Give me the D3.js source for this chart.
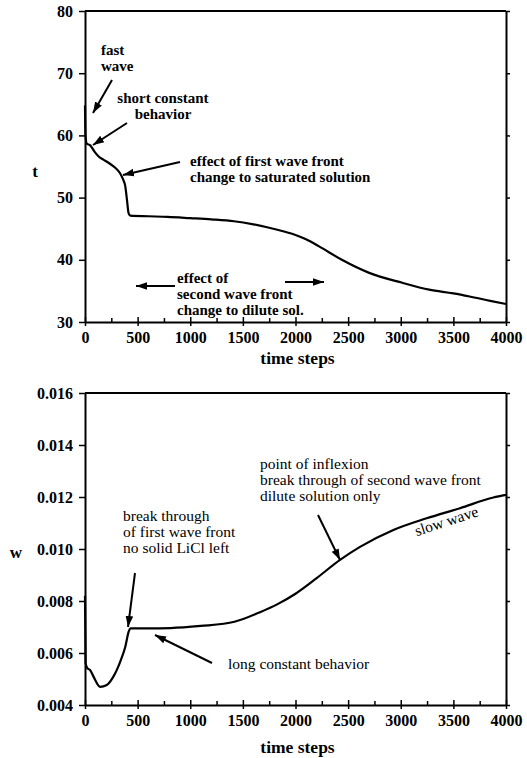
<!DOCTYPE html>
<html>
<head>
<meta charset="utf-8">
<script src="https://cdn.jsdelivr.net/npm/d3@7"></script>
<style>
  body { margin: 0; background: #fff; }
  svg { display: block; }
  text { font-family: "Liberation Serif", "Times New Roman", serif; fill: #000; }
  .tick text { font-weight: bold; font-size: 16px; }
  .ann-b { font-weight: bold; font-size: 15px; }
  .ann { font-size: 15.5px; }
</style>
</head>
<body>
<div id="chart"></div>
<script>
// top panel: t vs time steps
const tSteps = [0, 5, 16, 50, 90, 130, 175, 240, 287, 330, 360, 383, 399, 414, 431, 600, 785, 1000, 1200, 1416, 1600, 1740, 1900, 2000, 2100, 2220, 2440, 2700, 3015, 3270, 3500, 3655, 3850, 4000];
const tValues = [64.8, 60.0, 58.7, 58.4, 57.4, 56.6, 56.1, 55.4, 54.8, 54.0, 53.0, 51.8, 49.6, 47.5, 47.1, 47.0, 46.9, 46.7, 46.5, 46.2, 45.7, 45.2, 44.5, 44.0, 43.3, 42.2, 40.0, 37.9, 36.3, 35.2, 34.6, 34.1, 33.4, 32.9];

// bottom panel: w vs time steps
const wSteps = [0, 6, 25, 48, 80, 144, 207, 271, 335, 383, 415, 431, 600, 813, 1100, 1420, 1663, 1830, 2000, 2201, 2423, 2613, 2930, 3246, 3563, 3880, 4000];
const wValues = [0.0082, 0.0056, 0.0054, 0.00535, 0.0051, 0.0047, 0.00477, 0.0051, 0.00567, 0.00624, 0.00682, 0.00695, 0.00695, 0.00696, 0.00704, 0.0072, 0.00757, 0.00788, 0.00828, 0.00888, 0.00958, 0.01008, 0.01073, 0.01118, 0.01157, 0.01198, 0.01208];

const xMajor = [0, 500, 1000, 1500, 2000, 2500, 3000, 3500, 4000];
const xMinor = [250, 750, 1250, 1750, 2250, 2750, 3250, 3750];
const tTicks = [30, 40, 50, 60, 70, 80];
const wTicks = [0.004, 0.006, 0.008, 0.010, 0.012, 0.014, 0.016];

const W = 527, H = 758;
const svg = d3.select("#chart").append("svg").attr("width", W).attr("height", H);

svg.append("defs").append("marker")
  .attr("id", "head")
  .attr("viewBox", "0 0 10 10")
  .attr("refX", 10).attr("refY", 5)
  .attr("markerWidth", 11).attr("markerHeight", 11)
  .attr("markerUnits", "userSpaceOnUse")
  .attr("orient", "auto")
  .append("path").attr("d", "M0,1.5 L10,5 L0,8.5 Z").attr("fill", "#000");

const x = d3.scaleLinear().domain([0, 4000]).range([85, 506]);

function panel(y, ticks, fmt, steps, values, yName, yNamePos, titleY) {
  const g = svg.append("g");
  const [y0, y1] = y.range();

  // frame top
  g.append("line").attr("x1", x.range()[0]).attr("x2", x.range()[1])
    .attr("y1", y1).attr("y2", y1).attr("stroke", "#000").attr("stroke-width", 2);

  const left = g.append("g").attr("transform", `translate(${x.range()[0]},0)`)
    .call(d3.axisLeft(y).tickValues(ticks).tickFormat(fmt).tickSize(6).tickPadding(6).tickSizeOuter(0));
  const right = g.append("g").attr("transform", `translate(${x.range()[1]},0)`)
    .call(d3.axisRight(y).tickValues(ticks).tickFormat("").tickSize(4).tickSizeOuter(0));
  const bottom = g.append("g").attr("transform", `translate(0,${y0})`)
    .call(d3.axisBottom(x).tickValues(xMajor).tickFormat(d3.format("d")).tickSize(4).tickPadding(6).tickSizeOuter(0));
  bottom.selectAll(".tick line").attr("y1", -5);
  const minor = g.append("g").attr("transform", `translate(0,${y0})`)
    .call(d3.axisBottom(x).tickValues(xMinor).tickFormat("").tickSize(-4).tickSizeOuter(0));
  minor.select(".domain").remove();

  [left, right, bottom].forEach(a => a.select(".domain").attr("stroke-width", 2));
  g.selectAll(".tick line").attr("stroke-width", 1.5);
  g.selectAll(".tick text").attr("font-family", null).attr("font-size", null);

  g.append("text").attr("x", (x.range()[0] + x.range()[1]) / 2 + 2).attr("y", titleY)
    .attr("text-anchor", "middle").attr("font-weight", "bold").attr("font-size", 17.5)
    .text("time steps");
  g.append("text").attr("x", yNamePos[0]).attr("y", yNamePos[1])
    .attr("text-anchor", "middle").attr("font-weight", "bold").attr("font-size", 17)
    .text(yName);

  const line = d3.line().x((d, i) => x(steps[i])).y(d => y(d)).curve(d3.curveMonotoneX);
  g.append("path").datum(values).attr("d", line)
    .attr("fill", "none").attr("stroke", "#000").attr("stroke-width", 2.2)
    .attr("stroke-linejoin", "round");
  return g;
}

const yT = d3.scaleLinear().domain([30, 80]).range([322, 11]);
const yW = d3.scaleLinear().domain([0.004, 0.016]).range([705, 393]);

panel(yT, tTicks, d3.format("d"), tSteps, tValues, "t", [35, 177], 364);
panel(yW, wTicks, d3.format(".3f"), wSteps, wValues, "w", [16, 558], 753);

function label(lines, xPos, yPos, cls, anchor, lh) {
  const t = svg.append("text").attr("class", cls).attr("text-anchor", anchor || "start");
  lines.forEach((s, i) => t.append("tspan").attr("x", xPos).attr("y", yPos + i * (lh || 16)).text(s));
}
function arrow(x1, y1, x2, y2) {
  svg.append("line").attr("x1", x1).attr("y1", y1).attr("x2", x2).attr("y2", y2)
    .attr("stroke", "#000").attr("stroke-width", 2).attr("marker-end", "url(#head)");
}

// top panel annotations
label(["fast", "wave"], 101, 55, "ann-b");
arrow(112, 80, 93, 113);
label(["short constant", "behavior"], 163, 103, "ann-b", "middle");
arrow(127, 123, 93, 145);
label(["effect of first wave front", "change to saturated solution"], 190, 166, "ann-b");
arrow(180, 162, 123, 175);
label(["effect of", "second wave front", "change to dilute sol."], 177, 283, "ann-b");
arrow(175, 286, 136, 286);
arrow(285, 282, 324, 282);

// bottom panel annotations
label(["break through", "of first wave front", "no solid LiCl left"], 123, 521, "ann");
arrow(135, 573, 128, 627);
label(["point of inflexion", "break through of second wave front", "dilute solution only"], 260, 469, "ann");
arrow(318, 515, 340, 560);
svg.append("text").attr("class", "ann")
  .attr("transform", "translate(448,526) rotate(-18)")
  .attr("text-anchor", "middle").text("slow wave");
label(["long constant behavior"], 228, 669, "ann");
arrow(212, 663, 155, 635);
</script>
</body>
</html>
